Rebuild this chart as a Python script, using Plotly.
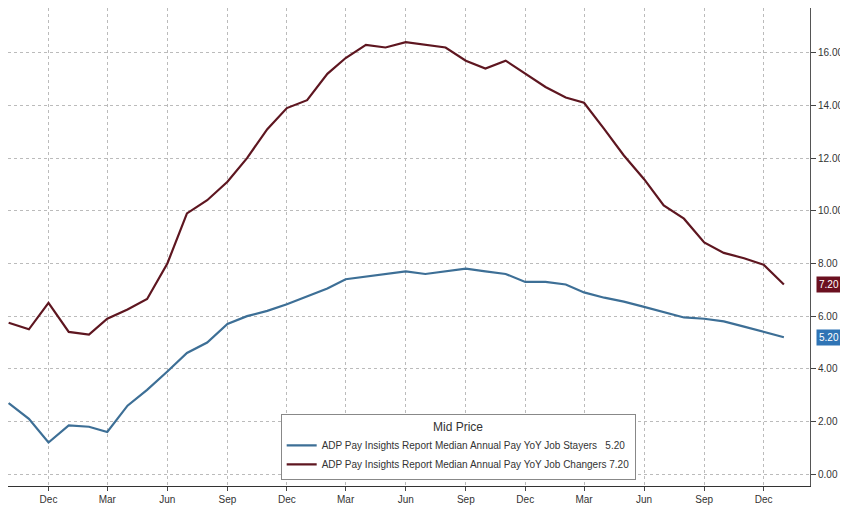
import plotly.graph_objects as go
import pandas as pd

months = pd.date_range("2020-10-01", "2024-01-01", freq="MS")

job_changers = [5.75, 5.5, 6.5, 5.4, 5.3, 5.9, 6.25, 6.65, 8.0, 9.9, 10.4, 11.1, 12.0, 13.1, 13.9,
                14.2, 15.2, 15.8, 16.3, 16.2, 16.4, 16.3, 16.2, 15.7, 15.4, 15.7, 15.2,
                14.7, 14.3, 14.1, 13.1, 12.1, 11.2, 10.2, 9.7, 8.8, 8.4, 8.2, 7.95, 7.2]
job_stayers = [2.7, 2.1, 1.2, 1.85, 1.8, 1.6, 2.6, 3.2, 3.9, 4.6, 5.0, 5.7, 6.0, 6.2, 6.45,
               6.75, 7.05, 7.4, 7.5, 7.6, 7.7, 7.6, 7.7, 7.8, 7.7, 7.6, 7.3,
               7.3, 7.2, 6.9, 6.7, 6.55, 6.35, 6.15, 5.95, 5.9, 5.8, 5.6, 5.4, 5.2]

tick_dates = pd.date_range("2020-12-01", "2023-12-01", freq="3MS")
tick_labels = [d.strftime("%b") for d in tick_dates]
year_labels = ["2020", "2021", "2022", "2023", "2024"]
year_pos = ["2020-11-20", "2021-06-01", "2022-06-01", "2023-06-01", "2024-01-10"]

red = "#5e1620"
blue = "#3d6f96"

fig = go.Figure()
fig.add_trace(go.Scatter(x=months, y=job_stayers, mode="lines", line=dict(color=blue, width=2.2),
                         name="ADP Pay Insights Report Median Annual Pay YoY Job Stayers   5.20"))
fig.add_trace(go.Scatter(x=months, y=job_changers, mode="lines", line=dict(color=red, width=2.2),
                         name="ADP Pay Insights Report Median Annual Pay YoY Job Changers 7.20"))

# last value tags on the right axis
for val, col in [(job_changers[-1], "#6b1020"), (job_stayers[-1], "#2f74b5")]:
    fig.add_annotation(x=1.008, xref="paper", y=val, yref="y", text=f"{val:.2f}", showarrow=False,
                       xanchor="left", bgcolor=col, font=dict(color="white", size=10),
                       borderpad=2)

# year row under the month ticks
for lab, pos in zip(year_labels, year_pos):
    fig.add_annotation(x=pos, xref="x", y=-0.045, yref="paper", text=lab, showarrow=False,
                       yanchor="top", font=dict(size=10, color="#333"))

fig.update_layout(
    width=848, height=508,
    margin=dict(l=0, r=46, t=0, b=30),
    paper_bgcolor="white", plot_bgcolor="white",
    font=dict(family="Liberation Sans Narrow, Arial Narrow, Liberation Sans", size=10, color="#333"),
    legend=dict(x=0.34, y=0.15, xanchor="left", yanchor="top", bgcolor="white",
                bordercolor="#888", borderwidth=1, font=dict(size=10),
                title=dict(text="Mid Price", side="top center")),
    xaxis=dict(range=["2020-09-30", "2024-02-10"], tickvals=tick_dates, ticktext=tick_labels,
               showgrid=True, gridcolor="#bbb", griddash="dot", ticks="outside",
               showline=True, linecolor="#333", tickangle=0, ticklen=4),
    yaxis=dict(range=[-0.45, 17.7], side="right", tickvals=list(range(0, 17, 2)),
               ticktext=[f"{v:.2f}" for v in range(0, 17, 2)], showgrid=True, gridcolor="#bbb",
               griddash="dot", ticks="outside", ticklen=5, showline=True, linecolor="#555",
               zeroline=False),
)

fig.write_html("out.html")
